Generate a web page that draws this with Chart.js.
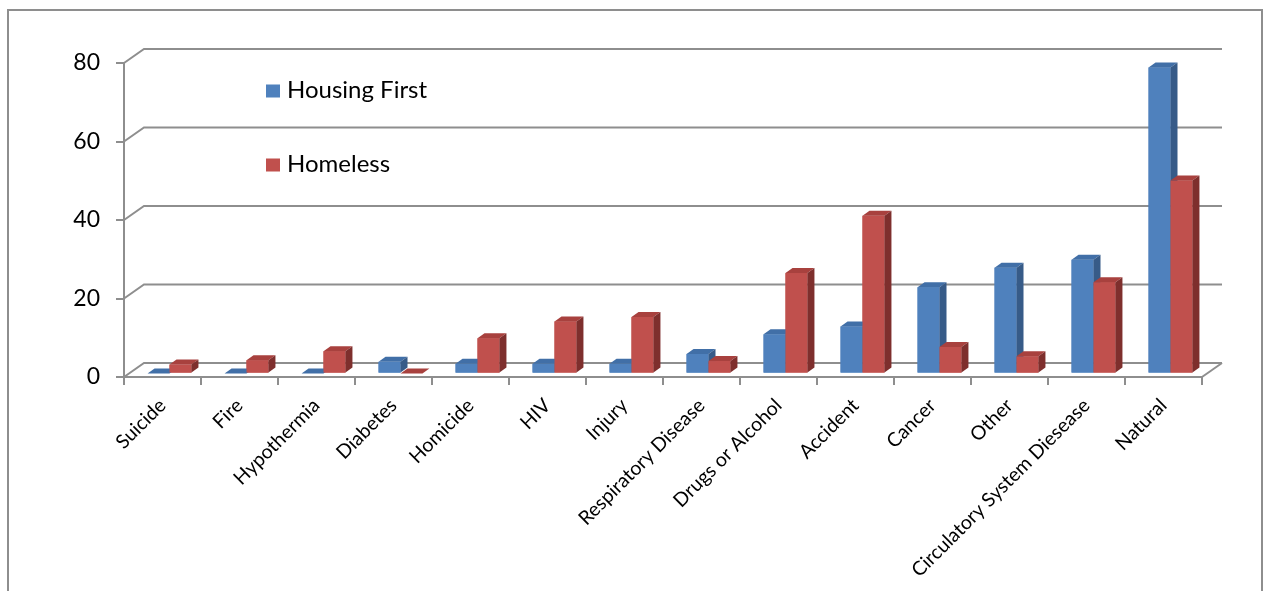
<!DOCTYPE html>
<html>
<head>
<meta charset="utf-8">
<script src="https://cdn.jsdelivr.net/npm/chart.js@4/dist/chart.umd.min.js"></script>
<style>
  body { margin: 0; background: #fff; }
  #wrap { width: 1264px; height: 591px; }
</style>
</head>
<body>
<div id="wrap"><canvas id="myChart" width="1264" height="591"></canvas></div>
<script>
'use strict'

const categories = ['Suicide', 'Fire', 'Hypothermia', 'Diabetes', 'Homicide', 'HIV', 'Injury',
  'Respiratory Disease', 'Drugs or Alcohol', 'Accident', 'Cancer', 'Other',
  'Circulatory System Diesease', 'Natural'];
const housingFirst = [0, 0, 0, 3, 2.5, 2.5, 2.5, 5, 10, 12, 22, 27, 29, 78];
const homeless = [2.3, 3.4, 5.7, 0, 9, 13.3, 14.4, 3.2, 25.6, 40.2, 6.8, 4.4, 23.3, 49.2];
const yTicks = [0, 20, 40, 60, 80];

const gray = '#8e8e8e';
const font = 'Lato';

// colours for the fake 3d faces: front, top, side
const faces = [
  ['#4f81bd', '#416fa7', '#375b88'],
  ['#c0504d', '#a8413e', '#7e2f2d']
];

// depth of the back wall and of each bar
const wallDX = 20, wallDY = -14;
const barShiftX = 7, barShiftY = -3.4;
const barDX = 7, barDY = -5;

const framePlugin = {
  id: 'frame',
  beforeDraw(chart){
    const ctx = chart.ctx;
    ctx.save();
    ctx.fillStyle = '#fff';
    ctx.fillRect(0, 0, chart.width, chart.height);
    ctx.strokeStyle = gray;
    ctx.lineWidth = 2;
    ctx.beginPath();
    ctx.moveTo(8, chart.height + 2);
    ctx.lineTo(8, 10);
    ctx.lineTo(1262, 10);
    ctx.lineTo(1262, chart.height + 2);
    ctx.stroke();
    ctx.restore();
  }
};

const wallPlugin = {
  id: 'wall',
  beforeDatasetsDraw(chart){
    const ctx = chart.ctx;
    const area = chart.chartArea;
    const y = chart.scales.y;
    ctx.save();
    ctx.strokeStyle = gray;
    ctx.lineWidth = 2;
    for (let v of yTicks){
      const py = y.getPixelForValue(v);
      ctx.beginPath();
      ctx.moveTo(area.left, py);
      ctx.lineTo(area.left + wallDX, py + wallDY);
      ctx.lineTo(area.right + wallDX, py + wallDY);
      ctx.stroke();
    }
    // right edge of the floor
    const py0 = y.getPixelForValue(0);
    ctx.beginPath();
    ctx.moveTo(area.right, py0);
    ctx.lineTo(area.right + wallDX, py0 + wallDY);
    ctx.stroke();
    ctx.restore();
  }
};

// bars get pushed a little into the depth, then every bar is drawn again
// front + top + side, blue before red so red covers the blue side face
const barsPlugin = {
  id: 'bars3d',
  beforeDatasetsDraw(chart){
    chart.ctx.save();
    chart.ctx.translate(barShiftX, barShiftY);
  },
  afterDatasetsDraw(chart){
    const ctx = chart.ctx;
    const metas = [chart.getDatasetMeta(0), chart.getDatasetMeta(1)];
    for (let i = 0; i < categories.length; i++){
      metas.forEach(function(meta, d){
        const bar = meta.data[i];
        const c = faces[d];
        const l = bar.x - bar.width / 2;
        const r = bar.x + bar.width / 2;
        const t = bar.y;
        const b = bar.base;
        ctx.fillStyle = c[0];
        ctx.fillRect(l, t, r - l, b - t);
        ctx.fillStyle = c[1];
        ctx.beginPath();
        ctx.moveTo(l, t);
        ctx.lineTo(l + barDX, t + barDY);
        ctx.lineTo(r + barDX, t + barDY);
        ctx.lineTo(r, t);
        ctx.closePath();
        ctx.fill();
        ctx.fillStyle = c[2];
        ctx.beginPath();
        ctx.moveTo(r, t);
        ctx.lineTo(r + barDX, t + barDY);
        ctx.lineTo(r + barDX, b + barDY);
        ctx.lineTo(r, b);
        ctx.closePath();
        ctx.fill();
      });
    }
    ctx.restore();
  }
};

const legendPlugin = {
  id: 'legendBox',
  afterDatasetsDraw(chart){
    const ctx = chart.ctx;
    ctx.save();
    ctx.font = '24px ' + font;
    ctx.textBaseline = 'middle';
    const rows = [91, 165];
    chart.data.datasets.forEach(function(ds, i){
      ctx.fillStyle = faces[i][0];
      ctx.fillRect(266, rows[i] - 6.5, 14, 13);
      ctx.fillStyle = '#000';
      ctx.fillText(ds.label, 287, rows[i] - 1);
    });
    ctx.restore();
  }
};

const ctx = document.getElementById('myChart').getContext('2d');

const myChart = new Chart(ctx, {
  type: 'bar',
  data: {
    labels: categories,
    datasets: [{
      label: 'Housing First',
      data: housingFirst,
      backgroundColor: faces[0][0],
      clip: false
    },
    {
      label: 'Homeless',
      data: homeless,
      backgroundColor: faces[1][0],
      clip: false
    }]
  },
  options: {
    responsive: false,
    animation: false,
    layout: { padding: { top: 63, right: 62, left: 0, bottom: 0 } },
    datasets: { bar: { categoryPercentage: 0.57, barPercentage: 1 } },
    plugins: {
      legend: { display: false },
      tooltip: { enabled: false }
    },
    scales: {
      x: {
        grid: { offset: true, drawOnChartArea: false, tickLength: 8, color: gray, lineWidth: 2 },
        border: { color: gray, width: 2 },
        ticks: {
          font: { family: font, size: 19.5 },
          color: '#000',
          minRotation: 45,
          maxRotation: 45,
          autoSkip: false,
          padding: 9
        },
        afterFit(scale){ scale.height = 214; }
      },
      y: {
        min: 0,
        max: 80,
        grid: { drawOnChartArea: false, tickLength: 8, color: gray, lineWidth: 2 },
        border: { color: gray, width: 2 },
        ticks: {
          stepSize: 20,
          font: { family: font, size: 23 },
          color: '#000',
          padding: 16
        },
        afterFit(scale){ scale.width = 124; }
      }
    }
  },
  plugins: [framePlugin, wallPlugin, barsPlugin, legendPlugin]
});
</script>
</body>
</html>
